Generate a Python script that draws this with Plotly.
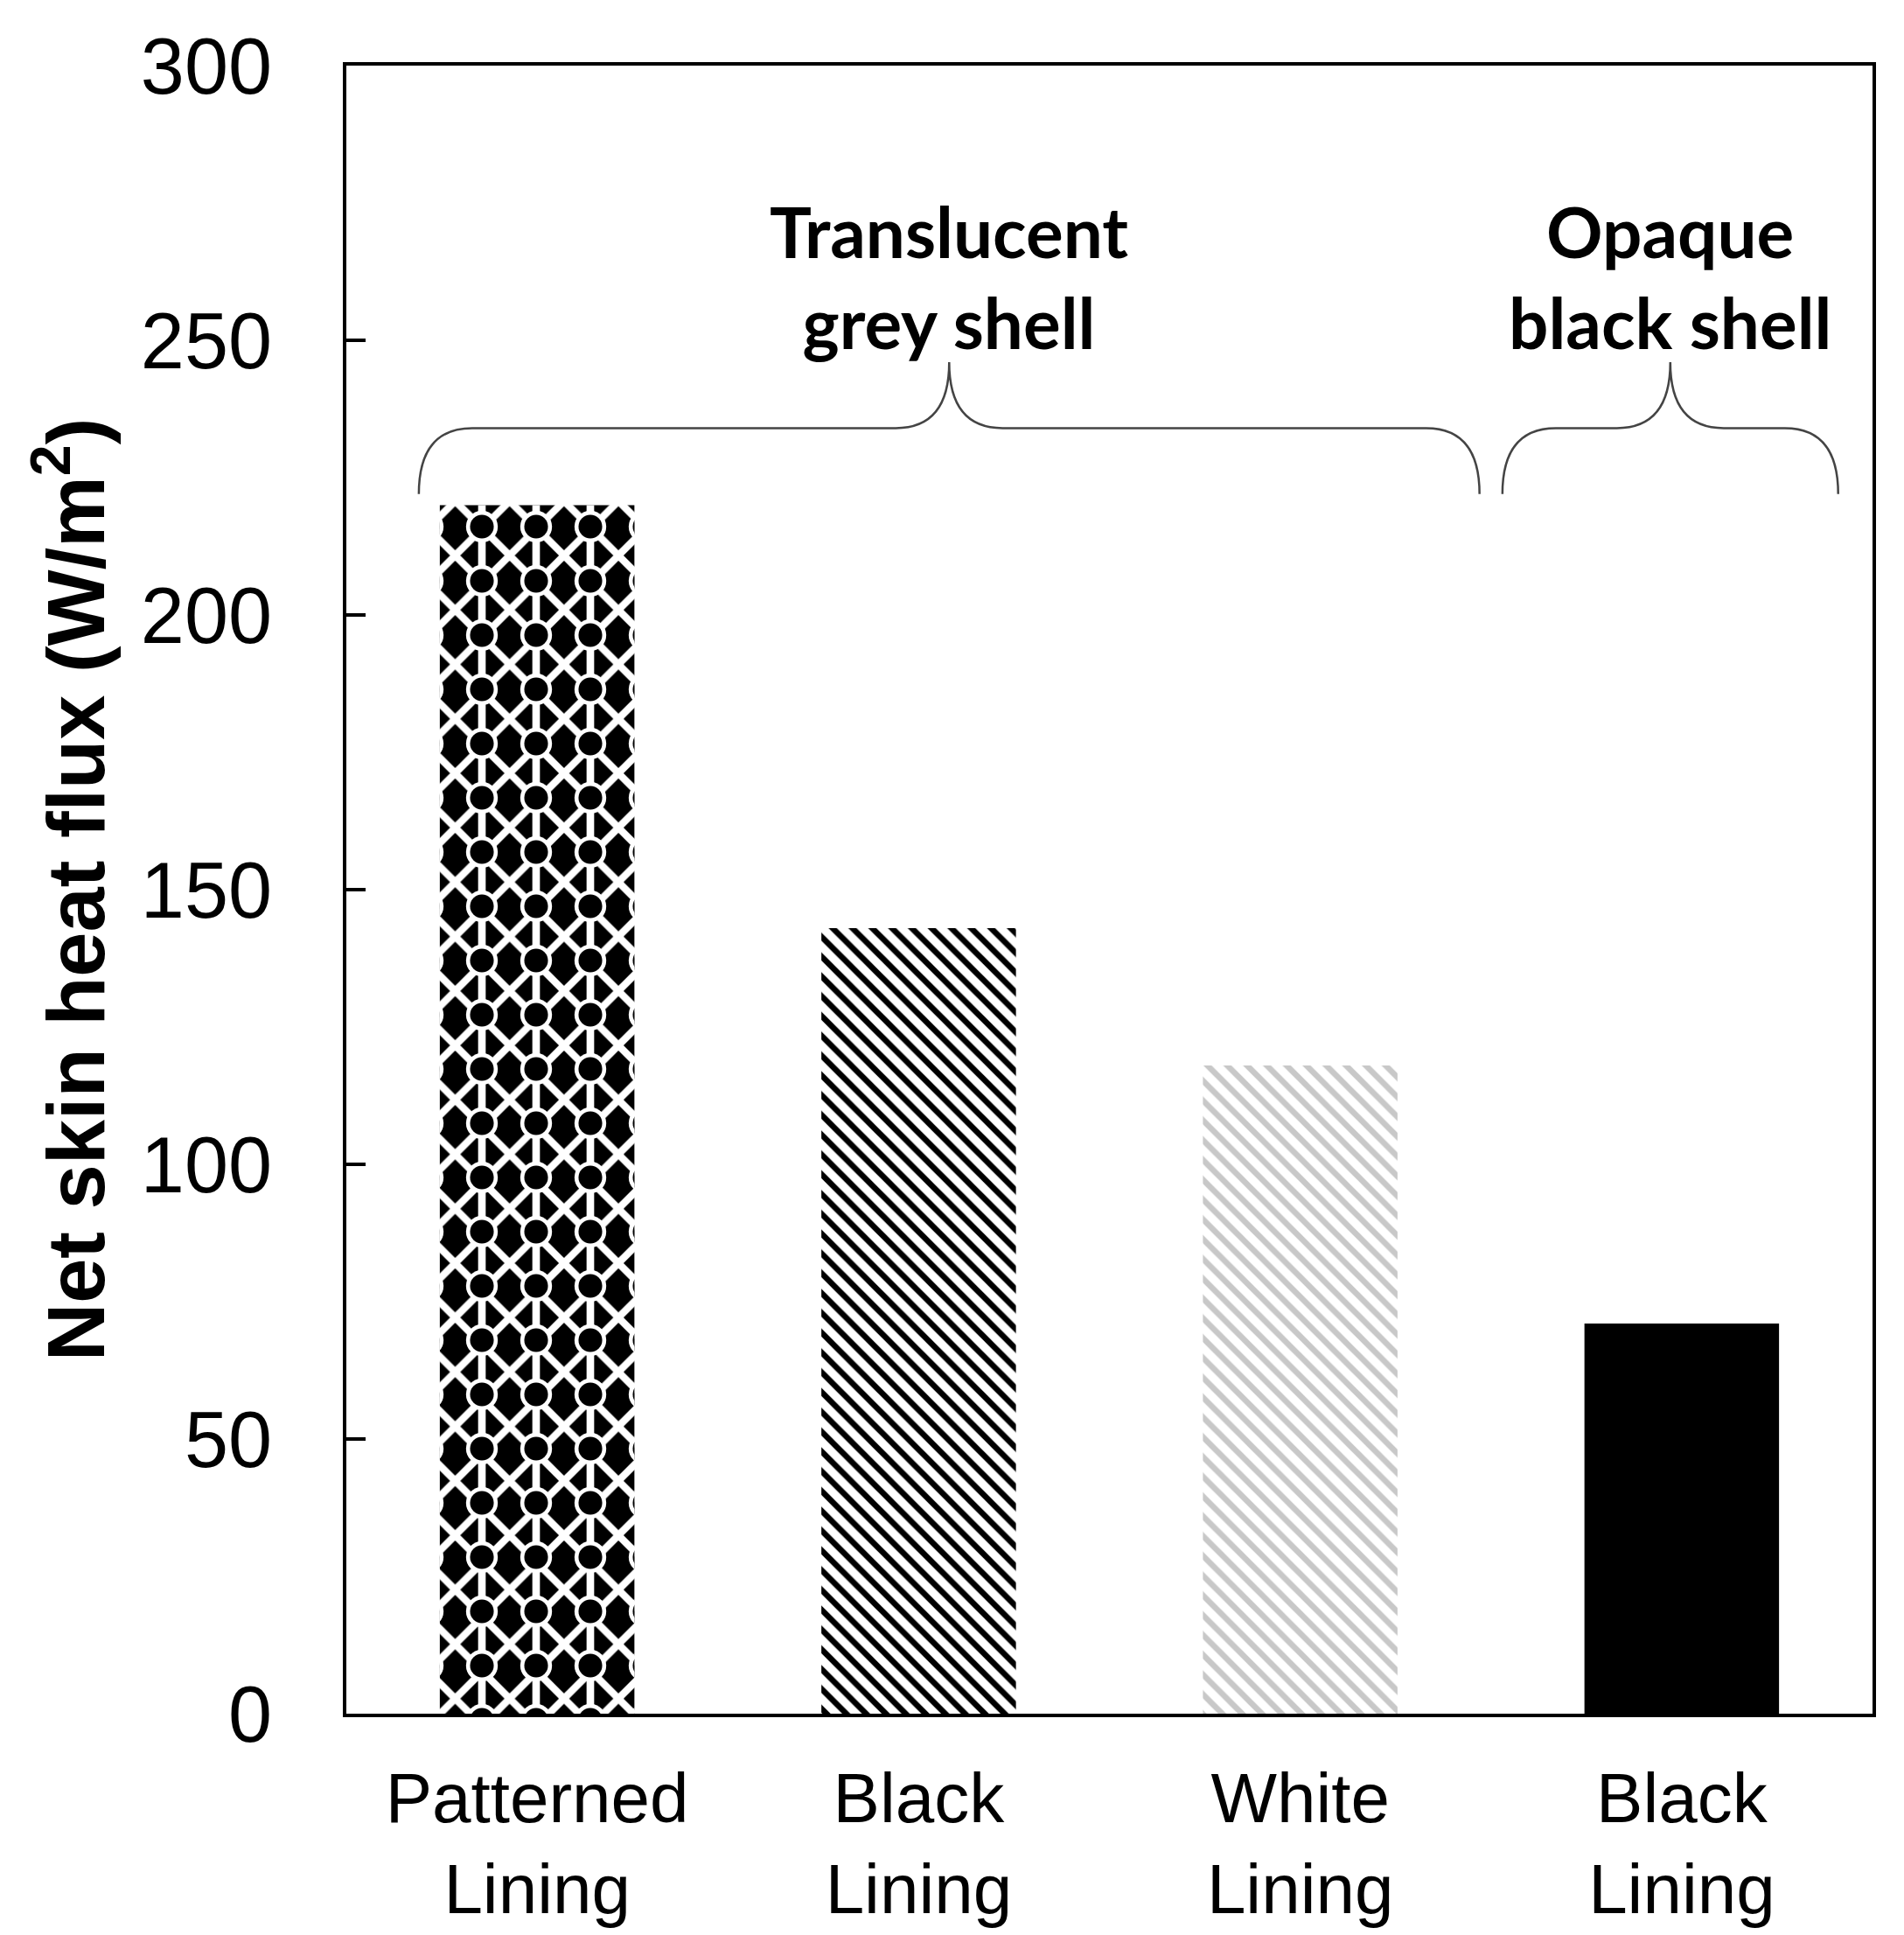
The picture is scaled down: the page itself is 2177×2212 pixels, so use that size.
import plotly.graph_objects as go

# bar data
categories = ["Patterned<br>Lining", "Black<br>Lining", "White<br>Lining", "Black<br>Lining"]
heat_flux = [220, 143, 118, 71]
y_ticks = [0, 50, 100, 150, 200, 250, 300]

# group labels over the bars
group_labels = ["Translucent<br>grey shell", "Opaque<br>black shell"]

x_pos = list(range(len(categories)))
BAR_W = 0.51

# fill style of each bar (one trace per bar so patterns stay independent)
bar_styles = [
    dict(shape="x", fg="white", bg="black", size=44, sol=0.34),
    dict(shape="\\", fg="black", bg="white", size=16, sol=0.42),
    dict(shape="\\", fg="#c8c8c8", bg="white", size=16, sol=0.42),
    dict(shape="", fg="black", bg="black", size=10, sol=0.3),
]

fig = go.Figure()


def add_bar(x, y, st):
    fig.add_trace(go.Bar(
        x=[x], y=[y], width=BAR_W,
        marker=dict(
            color=st["bg"],
            line=dict(width=0),
            pattern=dict(shape=st["shape"], fgcolor=st["fg"], bgcolor=st["bg"],
                         size=st["size"], solidity=st["sol"], fillmode="replace"),
        ),
        hoverinfo="skip",
    ))


for x, y, st in zip(x_pos, heat_flux, bar_styles):
    add_bar(x, y, st)

# extra layers on the patterned bar to mimic the triangle/dot texture
texture_layers = [
    dict(shape="|", fg="white", bg="rgba(0,0,0,0)", size=62, sol=0.14),
    dict(shape=".", fg="white", bg="rgba(0,0,0,0)", size=62, sol=0.27),
    dict(shape=".", fg="black", bg="rgba(0,0,0,0)", size=62, sol=0.15),
]
for st in texture_layers:
    add_bar(x_pos[0], heat_flux[0], st)


def brace_path(x0, x1, yb, ym, yt, dx):
    xt = (x0 + x1) / 2
    return (f"M{x0},{yb} Q{x0},{ym} {x0 + dx},{ym} L{xt - dx},{ym} "
            f"Q{xt},{ym} {xt},{yt} Q{xt},{ym} {xt + dx},{ym} "
            f"L{x1 - dx},{ym} Q{x1},{ym} {x1},{yb}")


brace_spans = [(-0.31, 2.47), (2.53, 3.41)]
for (x0, x1), label in zip(brace_spans, group_labels):
    fig.add_shape(type="path", xref="x", yref="y",
                  path=brace_path(x0, x1, 222.0, 234.0, 246.0, 0.14),
                  line=dict(color="#444444", width=2.5))
    fig.add_annotation(x=(x0 + x1) / 2, y=261.6, xref="x", yref="y",
                       text=f"<b>{label}</b>", showarrow=False,
                       font=dict(family="Lato", size=80, color="black"),
                       yanchor="middle")

fig.update_layout(
    width=2177, height=2212,
    barmode="overlay",
    showlegend=False,
    plot_bgcolor="white",
    paper_bgcolor="white",
    margin=dict(l=388, r=44, t=67, b=261, pad=0),
    font=dict(family="Liberation Sans, Arial", color="black"),
    xaxis=dict(
        range=[-0.5, 3.5],
        tickvals=x_pos, ticktext=categories,
        tickfont=dict(size=80),
        ticks="", showgrid=False, zeroline=False,
        showline=True, linecolor="black", linewidth=4, mirror=True,
        ticklabelstandoff=24,
    ),
    yaxis=dict(
        range=[0, 300],
        tickvals=y_ticks,
        tickfont=dict(size=90),
        ticks="inside", ticklen=22, tickwidth=4, tickcolor="black",
        showgrid=False, zeroline=False,
        showline=True, linecolor="black", linewidth=4, mirror=True,
        ticklabelstandoff=63,
        title=dict(text="<b>Net skin heat flux (W/m<sup>2</sup>)</b>",
                   font=dict(size=92), standoff=12),
    ),
)

fig.write_html("out.html")
